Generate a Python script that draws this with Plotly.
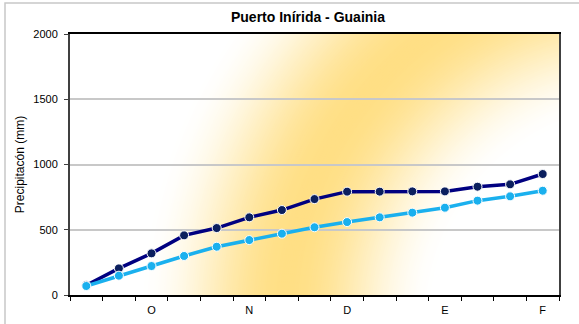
import math
import plotly.graph_objects as go

# precipitacion acumulada por decadas (mm)
periodos = list(range(15))
etiquetas_pos = [2, 5, 8, 11, 14]
etiquetas = ['O', 'N', 'D', 'E', 'F']
serie_max = [75, 204, 319, 457, 513, 595, 651, 735, 792, 792, 794, 794, 830, 848, 927]
serie_media = [69, 148, 222, 299, 370, 421, 470, 519, 559, 595, 631, 669, 723, 756, 799]

W, H = 579, 324
L, R_, T, B = 70, 20, 34, 29
pw, ph = W - L - R_, H - T - B
x_range = [-0.5, 14.5]
y_range = [0, 2000]

fig = go.Figure()

fig.add_trace(go.Scatter(x=periodos, y=serie_max, mode='lines+markers',
                         line=dict(color='#000080', width=3.5),
                         marker=dict(color='#0B1F5E', size=9, line=dict(color='white', width=1))))
fig.add_trace(go.Scatter(x=periodos, y=serie_media, mode='lines+markers',
                         line=dict(color='#1AB0EE', width=3.5),
                         marker=dict(color='#1AB0EE', size=9, line=dict(color='white', width=1))))

# fondo degradado (anillo blanco-amarillo-blanco) hecho con circulos concentricos
sx = (x_range[1] - x_range[0]) / pw
sy = (y_range[1] - y_range[0]) / ph
cx = x_range[0] + (640 - L) * sx
cy = (T + ph - 320) * sy
radio, ancho = 355, 150
amarillo = (255, 223, 133)
shapes = []
r = radio + ancho
while r >= radio - ancho:
    t = min(abs(r - radio) / ancho, 1)
    a = 0.5 * (1 + math.cos(math.pi * t))
    col = tuple(round(255 + (c - 255) * a) for c in amarillo)
    shapes.append(dict(type='circle', xref='x', yref='y', layer='below',
                       x0=cx - r * sx, x1=cx + r * sx, y0=cy - r * sy, y1=cy + r * sy,
                       fillcolor='rgb(%d,%d,%d)' % col, line=dict(width=0)))
    r -= 2
# borde exterior del grafico
shapes.append(dict(type='rect', xref='paper', yref='paper',
                   x0=(5 - L) / pw, x1=(600 - L) / pw, y0=-0.2, y1=(T + ph - 3) / ph,
                   line=dict(color='#C8C8C8', width=1.5)))

fig.update_layout(
    width=W, height=H,
    margin=dict(l=L, r=R_, t=T, b=B, pad=0),
    paper_bgcolor='white', plot_bgcolor='white',
    showlegend=False,
    font=dict(family='Liberation Sans, Arial', size=11, color='black'),
    title=dict(text='Puerto Inírida - Guainia', x=(308 - L) / pw, xref='paper', xanchor='center',
               y=1 - 17 / H, yanchor='middle',
               font=dict(size=14, weight='bold', color='black')),
    shapes=shapes,
    xaxis=dict(range=x_range, tickvals=etiquetas_pos, ticktext=etiquetas, ticks='',
               showgrid=False, zeroline=False, showline=True, linecolor='black', linewidth=1.5,
               mirror=True, ticklabelstandoff=4, automargin=False,
               minor=dict(tick0=-0.5, dtick=1, ticks='outside', ticklen=4, tickcolor='black',
                          showgrid=False)),
    yaxis=dict(range=y_range, tickvals=[0, 500, 1000, 1500, 2000], ticks='outside', ticklen=4,
               tickcolor='#404040', showgrid=True, gridcolor='#C8C8C8', gridwidth=1.5,
               zeroline=False, showline=True, linecolor='#404040', linewidth=2, mirror=True,
               ticklabelstandoff=4, automargin=False,
               title=dict(text='Precipitacón (mm)', standoff=6, font=dict(size=12))),
)

fig.write_html("out.html", config={'displayModeBar': False},
               post_script="document.body.style.margin='0';")
